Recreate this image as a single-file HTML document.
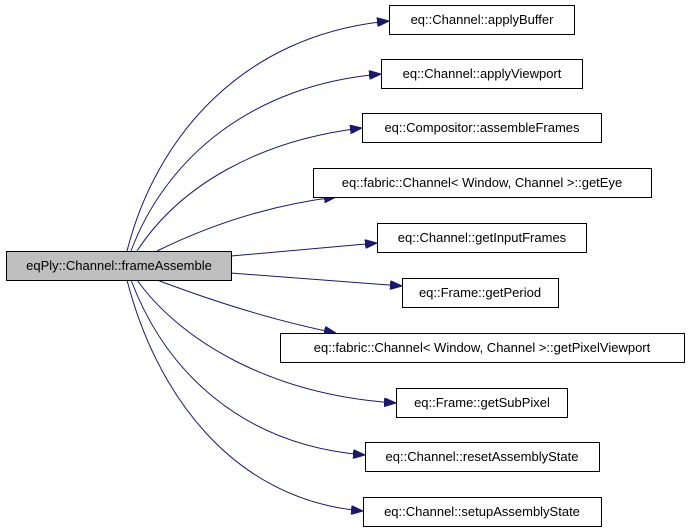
<!DOCTYPE html>
<html><head><meta charset="utf-8"><style>
body{margin:0;background:#fff;}
svg{display:block;}
text{font-family:"Liberation Sans",sans-serif;font-size:13px;fill:#000;}
</style></head><body>
<svg width="688" height="532" viewBox="0 0 688 532" xmlns="http://www.w3.org/2000/svg">
<defs><marker id="a" markerWidth="12" markerHeight="9" refX="12" refY="4.5" orient="auto" markerUnits="userSpaceOnUse"><path d="M0,0 L12,4.5 L0,9 Z" fill="#191970" stroke="#191970"/></marker></defs>
<g fill="none" stroke="#191970" stroke-width="1" marker-end="url(#a)">
<path d="M127,251 C155,140 240,35 389,21"/>
<path d="M131,251 C165,160 250,85 381,74"/>
<path d="M137,251 C180,185 260,140 362,128"/>
<path d="M157,251 C210,225 270,205 336,197"/>
<path d="M231,256 L377,243"/>
<path d="M231,273 L402,286"/>
<path d="M157,280 C210,300 270,320 336,333"/>
<path d="M137,280 C180,340 270,395 396,403"/>
<path d="M131,280 C165,370 240,445 365,455"/>
<path d="M127,280 C155,390 230,500 363,511"/>
</g>
<g stroke="#000" stroke-width="1" fill="#fff">
<rect x="389.5" y="5.5" width="185" height="29"/>
<rect x="381.5" y="59.5" width="201" height="29"/>
<rect x="362.5" y="113.5" width="239" height="29"/>
<rect x="313.5" y="168.5" width="338" height="29"/>
<rect x="377.5" y="223.5" width="209" height="29"/>
<rect x="6.5" y="251.5" width="225" height="29" fill="#bfbfbf"/>
<rect x="402.5" y="278.5" width="156" height="29"/>
<rect x="280.5" y="333.5" width="404" height="29"/>
<rect x="396.5" y="388.5" width="171" height="29"/>
<rect x="365.5" y="442.5" width="234" height="29"/>
<rect x="363.5" y="497.5" width="238" height="29"/>
</g>
<g text-anchor="middle">
<text x="482" y="24">eq::Channel::applyBuffer</text>
<text x="482" y="78">eq::Channel::applyViewport</text>
<text x="482" y="132">eq::Compositor::assembleFrames</text>
<text x="482" y="187">eq::fabric::Channel&lt; Window, Channel &gt;::getEye</text>
<text x="482" y="242">eq::Channel::getInputFrames</text>
<text x="119" y="270">eqPly::Channel::frameAssemble</text>
<text x="480" y="297">eq::Frame::getPeriod</text>
<text x="482" y="352">eq::fabric::Channel&lt; Window, Channel &gt;::getPixelViewport</text>
<text x="482" y="407">eq::Frame::getSubPixel</text>
<text x="482" y="461">eq::Channel::resetAssemblyState</text>
<text x="482" y="516">eq::Channel::setupAssemblyState</text>
</g>
</svg>
</body></html>
